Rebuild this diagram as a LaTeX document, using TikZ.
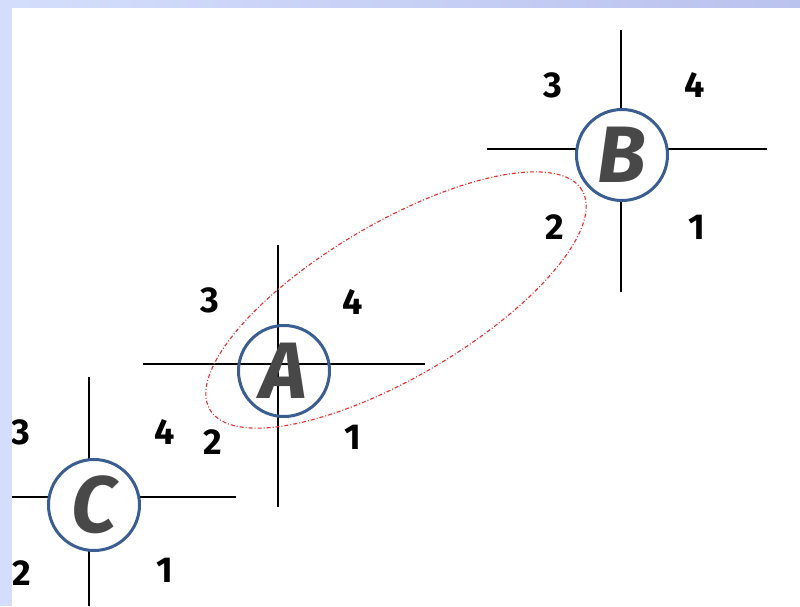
\documentclass[tikz,border=0pt]{standalone}
\usepackage{fontspec}
\setmainfont{Fira Sans}
\definecolor{frameLav}{RGB}{212, 222, 252}
\definecolor{frameLavDark}{RGB}{186, 194, 238}
\definecolor{ringBlue}{RGB}{58, 94, 146}
\definecolor{letterGray}{RGB}{72, 72, 72}
\definecolor{hullRed}{RGB}{235, 45, 45}
\usetikzlibrary{positioning}

\begin{document}
\begin{tikzpicture}[x=1pt, y=-1pt,
                ring/.style={circle,
                draw=ringBlue,
                line width=3pt,
                fill=white,
                minimum size=91pt,
                inner sep=0pt,
                text=letterGray,
                font=\fontsize{80}{80}\selectfont\bfseries\itshape},
                num/.style={font=\fontsize{36}{36}\selectfont\bfseries, inner sep=0pt},
                axis/.style={black, line width=1.3pt},
                hull/.style={hullRed, line width=1.1pt,
                dash pattern=on 4pt off 2pt on 1pt off 2pt}]
                % frame
                \useasboundingbox (0,0) rectangle (800,606);
                \fill[frameLav] (0,0) rectangle (12,606);
                \shade[left color=frameLav, right color=frameLavDark] (0,0) rectangle (800,8);
                \fill[white] (12,8) rectangle (800,606);
                % crosshairs
                \draw[axis] (143,364) -- (425,364);
                \draw[axis] (278,245) -- (278,507);
                \draw[axis] (487,149) -- (767,149);
                \draw[axis] (621,30) -- (621,292);
                \draw[axis] (12,497) -- (236,497);
                \draw[axis] (89,377) -- (89,606);
                % pair
                \draw[hull, rotate around={30.5:(396,300)}] (396,300) ellipse (216pt and 77pt);
                % points
                \node[ring, fill=none] (A) at (284,371) {A};
                \node[ring] (B) at (622,155) {B};
                \node[ring] (C) at (94,505) {C};
                % quadrants
                \node[num] (A3) at (210,300) {3};
                \node[num] (A4) at (353,302) {4};
                \node[num] (A2) at (213,442) {2};
                \node[num] (A1) at (353,437) {1};
                \node[num] (B3) at (553,85) {3};
                \node[num] (B4) at (695,85) {4};
                \node[num] (B2) at (555,227) {2};
                \node[num] (B1) at (697,227) {1};
                \begin{scope}
                \clip (12,8) rectangle (800,606);
                \node[num] (C3) at (21,432) {3};
                \node[num] (C2) at (22,573) {2};
                \end{scope}
                \node[num] (C4) at (165,432) {4};
                \node[num] (C1) at (165,570) {1};
            \end{tikzpicture}
\end{document}
